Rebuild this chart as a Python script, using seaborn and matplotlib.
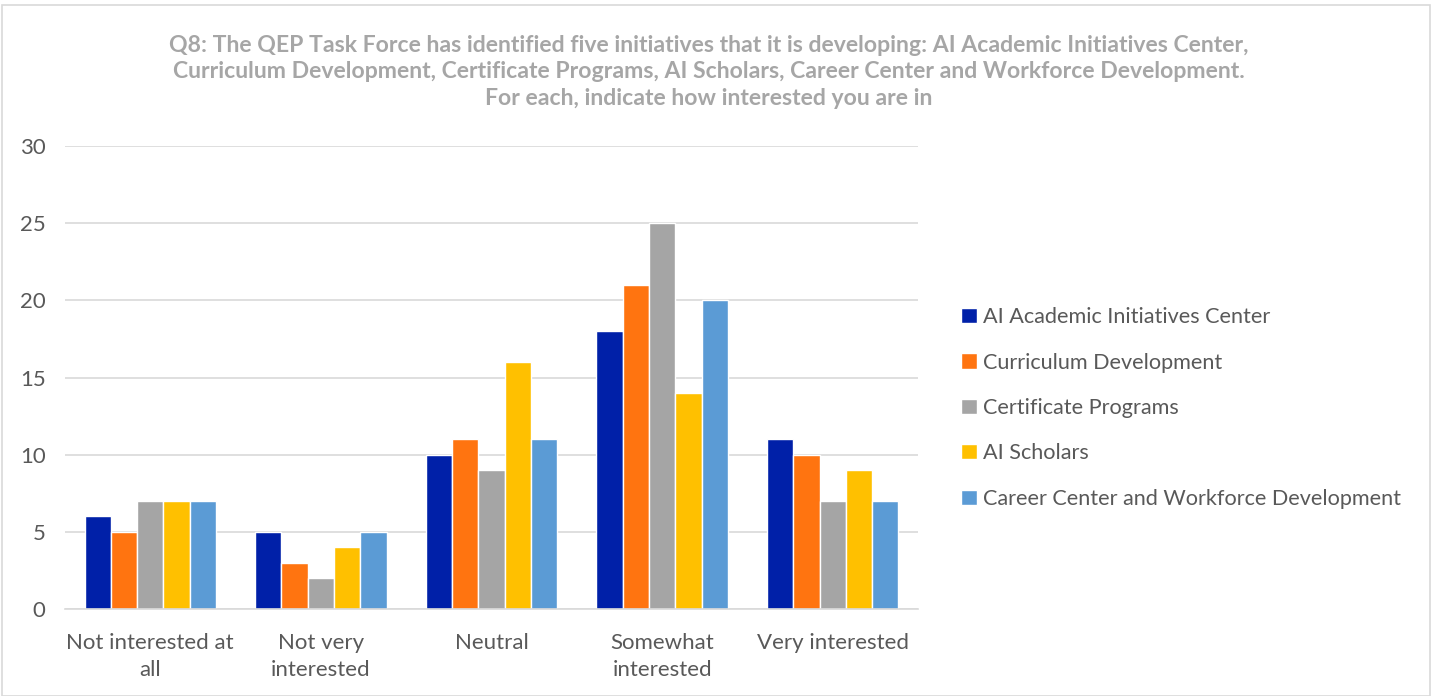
import matplotlib
matplotlib.use("Agg")
import matplotlib.pyplot as plt
import seaborn as sns
import pandas as pd
from matplotlib.patches import Rectangle, Patch

categories = ["Not interested at\nall", "Not very\ninterested", "Neutral",
              "Somewhat\ninterested", "Very interested"]
series_names = ["AI Academic Initiatives Center", "Curriculum Development",
                "Certificate Programs", "AI Scholars",
                "Career Center and Workforce Development"]
ai_center = [6, 5, 10, 18, 11]
curriculum = [5, 3, 11, 21, 10]
certificate = [7, 2, 9, 25, 7]
scholars = [7, 4, 16, 14, 9]
career = [7, 5, 11, 20, 7]
colors = ["#0020A8", "#FF7410", "#A5A5A5", "#FFC000", "#5B9BD5"]
title = ("Q8: The QEP Task Force has identified five initiatives that it is developing: AI Academic Initiatives Center,\n"
         "Curriculum Development, Certificate Programs, AI Scholars, Career Center and Workforce Development.\n"
         "For each, indicate how interested you are in")

rows = []
for name, vals in zip(series_names, [ai_center, curriculum, certificate, scholars, career]):
    for c, v in zip(categories, vals):
        rows.append({"category": c, "series": name, "value": v})
df = pd.DataFrame(rows)

sns.set_style("white")
plt.rcParams['font.family'] = ['Lato', 'DejaVu Sans']

fig = plt.figure(figsize=(14.32, 6.96), dpi=100)
ax = fig.add_axes([65/1432, 1-609/696, (918-65)/1432, (609-146)/696])

sns.barplot(data=df, x="category", y="value", hue="series", order=categories,
            hue_order=series_names, palette=colors, width=0.77, ax=ax,
            saturation=1, legend=False, errorbar=None)

ax.set_ylim(0, 30)
ax.set_yticks(range(0, 31, 5))
ax.set_xlim(-0.5, 4.5)
ax.yaxis.grid(True, color="#D9D9D9", linewidth=1.2)
ax.set_axisbelow(True)
for s in ["top", "right", "left"]:
    ax.spines[s].set_visible(False)
ax.spines["bottom"].set_color("#D9D9D9")
ax.spines["bottom"].set_linewidth(1.2)
ax.set_xlabel("")
ax.set_ylabel("")
ax.tick_params(axis="both", length=0, labelsize=16, labelcolor="#595959")
ax.tick_params(axis="y", pad=14)
ax.tick_params(axis="x", pad=17)
for lbl in ax.get_xticklabels():
    lbl.set_linespacing(1.45)

handles = [Patch(facecolor=c, label=n) for c, n in zip(colors, series_names)]
leg = fig.legend(handles=handles, loc="center left", bbox_to_anchor=(942/1432, 1-408/696),
                 frameon=False, fontsize=15.6, labelspacing=1.17, handlelength=0.7,
                 handleheight=0.7, handletextpad=0.3)
for t in leg.get_texts():
    t.set_color("#595959")

fig.text(709/1432, 1-72/696, title, ha="center", va="center", fontsize=16.6,
         fontweight="bold", color="#A6A6A6", linespacing=1.32)

fig.patches.append(Rectangle((2/1432, 0.0), 1-4/1432, 1-5/696, transform=fig.transFigure,
                             fill=False, edgecolor="#D9D9D9", linewidth=1.2))

fig.savefig("out.png", dpi=100)
